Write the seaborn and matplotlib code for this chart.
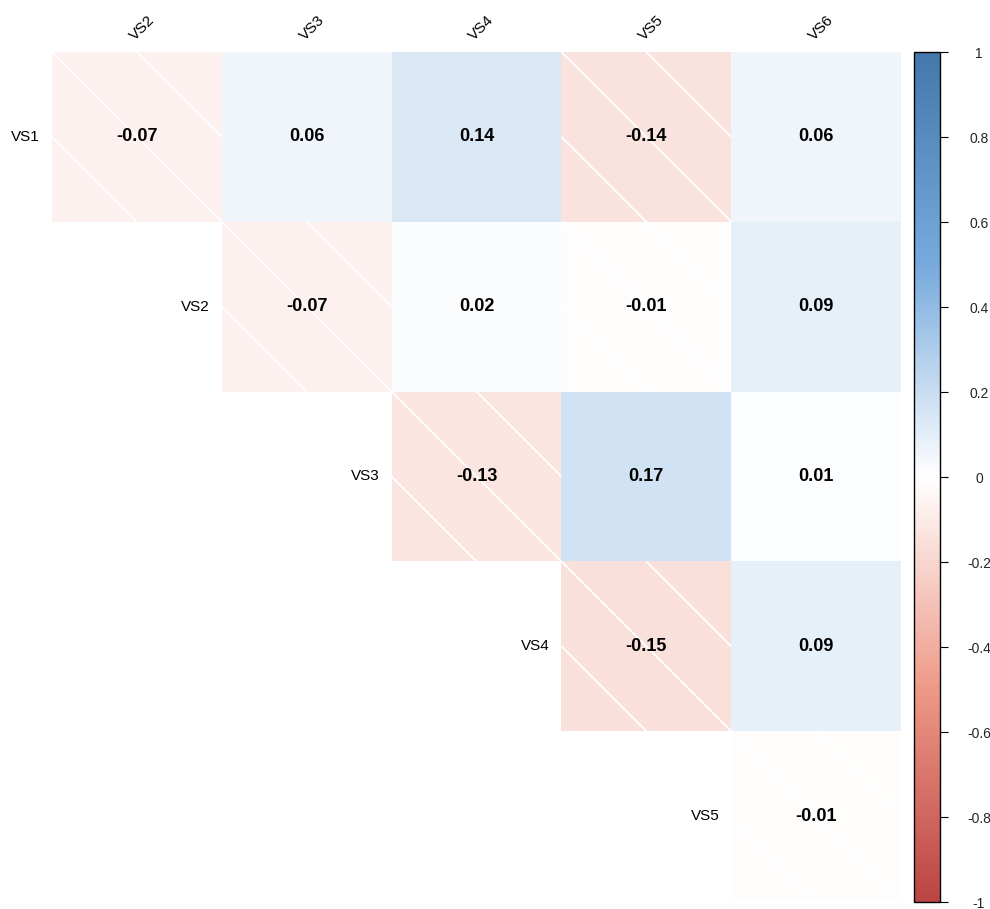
import matplotlib
matplotlib.use("Agg")
import matplotlib.pyplot as plt
from matplotlib.colors import LinearSegmentedColormap
import numpy as np
import pandas as pd
import seaborn as sns

# correlation values (upper triangle, rows VS1..VS5 vs cols VS2..VS6)
row_labels = ["VS1", "VS2", "VS3", "VS4", "VS5"]
col_labels = ["VS2", "VS3", "VS4", "VS5", "VS6"]
row_vs1 = [-0.07, 0.06, 0.14, -0.14, 0.06]
row_vs2 = [np.nan, -0.07, 0.02, -0.01, 0.09]
row_vs3 = [np.nan, np.nan, -0.13, 0.17, 0.01]
row_vs4 = [np.nan, np.nan, np.nan, -0.15, 0.09]
row_vs5 = [np.nan, np.nan, np.nan, np.nan, -0.01]
cbar_ticks = [-1, -0.8, -0.6, -0.4, -0.2, 0, 0.2, 0.4, 0.6, 0.8, 1]

df = pd.DataFrame([row_vs1, row_vs2, row_vs3, row_vs4, row_vs5],
                  index=row_labels, columns=col_labels)
mask = df.isna()

cmap = LinearSegmentedColormap.from_list(
    "corr", ["#BB4444", "#EE9988", "#FFFFFF", "#77AADD", "#4477AA"])

sns.set_theme(style="white")
plt.rcParams['font.family'] = ['Liberation Sans', 'DejaVu Sans']

fig = plt.figure(figsize=(9.9, 9.09), dpi=100)
ax = fig.add_axes([52 / 990, 1 - 901 / 909, 849 / 990, 849 / 909])
cax = fig.add_axes([914 / 990, 1 - 902 / 909, 26 / 990, 850 / 909])

sns.heatmap(df, mask=mask, cmap=cmap, vmin=-1, vmax=1, annot=True, fmt=".2f",
            annot_kws={"weight": "bold", "size": 13, "color": "black"},
            cbar_ax=cax, xticklabels=False, yticklabels=False, ax=ax)
ax.set_xlabel("")
ax.set_ylabel("")

# white shading lines on negative cells
for r in range(len(row_labels)):
    for c in range(len(col_labels)):
        v = df.iloc[r, c]
        if np.isnan(v) or v >= 0:
            continue
        for (x0, y0, x1, y1) in [(c, r, c + 1, r + 1),
                                 (c + 0.5, r, c + 1, r + 0.5),
                                 (c, r + 0.5, c + 0.5, r + 1)]:
            ax.plot([x0, x1], [y0, y1], color="white", lw=1.3, zorder=2,
                    solid_capstyle="butt")

# row labels next to the first cell of each row
for r, name in enumerate(row_labels):
    ax.text(r - 0.07, r + 0.5, name, ha="right", va="center", fontsize=11,
            color="black", clip_on=False)

# column labels on top, rotated
for c, name in enumerate(col_labels):
    ax.text(c + 0.53, -0.14, name, ha="center", va="center", rotation=45,
            fontsize=11, color="black", clip_on=False)

# colorbar styling
cbar = ax.collections[0].colorbar
cbar.set_ticks(cbar_ticks)
cbar.set_ticklabels([f"{t:g}" for t in cbar_ticks])
cbar.outline.set_visible(True)
cbar.outline.set_edgecolor("black")
cbar.outline.set_linewidth(1.0)
cax.tick_params(axis="y", length=6, width=0.8, color="black", direction="out",
                labelsize=10, pad=22)
for lab in cax.get_yticklabels():
    lab.set_horizontalalignment("center")

plt.savefig("out.png", dpi=100)
plt.close()
